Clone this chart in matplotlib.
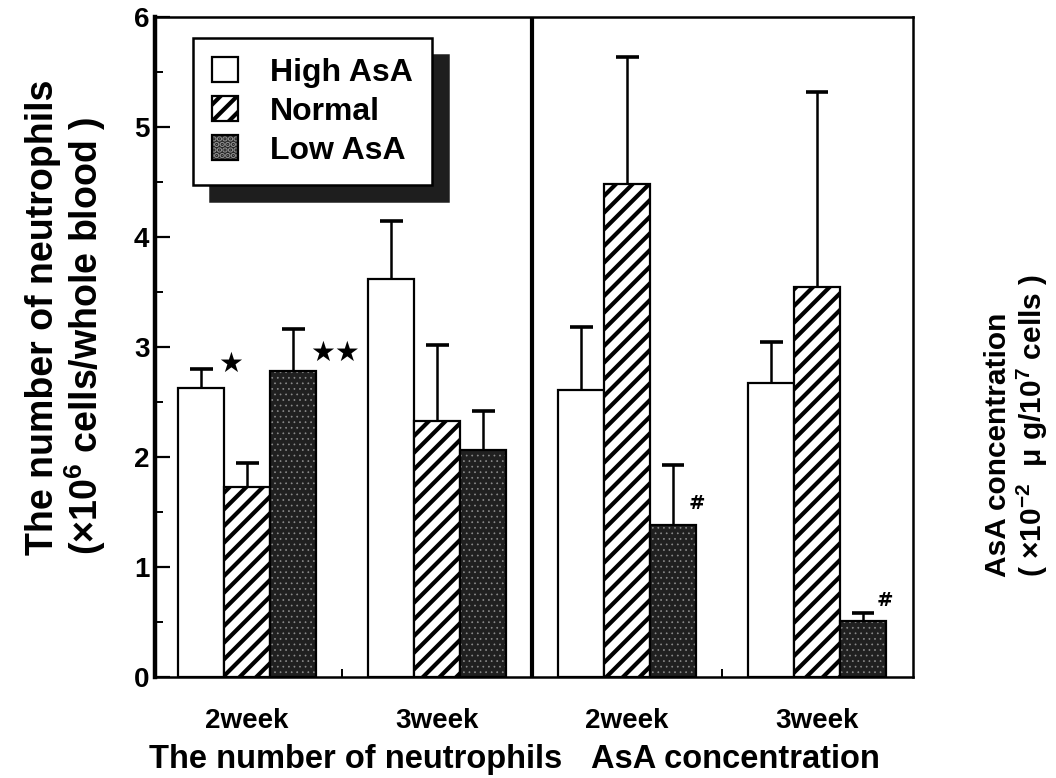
import numpy as np
import matplotlib
matplotlib.use("Agg")
import matplotlib.pyplot as plt
from matplotlib.legend_handler import HandlerTuple

# values (mean, and upper error bar as +SD)
weeks = ["2week", "3week", "2week", "3week"]
panels = ["The number of neutrophils", "AsA concentration"]
groups = ["High AsA", "Normal", "Low AsA"]

high_mean = [2.63, 3.62, 2.61, 2.67]
high_err = [0.17, 0.53, 0.57, 0.38]
normal_mean = [1.73, 2.33, 4.48, 3.55]
normal_err = [0.22, 0.69, 1.16, 1.77]
low_mean = [2.78, 2.06, 1.38, 0.51]
low_err = [0.38, 0.36, 0.55, 0.07]

# significance marks: (week index, group index, text)
marks = [(0, 0, "\u2605"), (0, 2, "\u2605\u2605"), (2, 2, "#"), (3, 2, "#")]
mark_offsets = [(12, 4), (12, -17), (11, -28), (10, 9)]

plt.rcParams["font.family"] = ["Liberation Sans", "DejaVu Sans"]
plt.rcParams["font.weight"] = "bold"
plt.rcParams["mathtext.fontset"] = "custom"
plt.rcParams["mathtext.rm"] = "Liberation Sans:bold"
plt.rcParams["mathtext.default"] = "rm"
plt.rcParams["hatch.linewidth"] = 3.0

fig = plt.figure(figsize=(10.56, 7.78), dpi=100)
ax = fig.add_axes([0.1468, 0.1298, 0.7178, 0.8483])

x = np.arange(len(weeks))
w = 0.242

b_high = ax.bar(x - w, high_mean, w, color="white", edgecolor="black", linewidth=1.6)
b_norm = ax.bar(x, normal_mean, w, color="white", edgecolor="black",
                linewidth=1.6, hatch="//")
b_low_fill = ax.bar(x + w, low_mean, w, color="#202020", edgecolor="#8c8c8c",
                    linewidth=0, hatch="...")
for p in b_low_fill:
    if hasattr(p, "set_hatch_linewidth"):
        p.set_hatch_linewidth(0.5)
b_low = ax.bar(x + w, low_mean, w, fill=False, edgecolor="black", linewidth=1.6)

# upper error bars only
cap = 0.06
for off, mean, err in [(-w, high_mean, high_err), (0, normal_mean, normal_err),
                       (w, low_mean, low_err)]:
    xs = x + off
    tops = np.array(mean) + np.array(err)
    ax.vlines(xs, mean, tops, color="black", linewidth=1.8, zorder=3)
    ax.hlines(tops, xs - cap, xs + cap, color="black", linewidth=2.6, zorder=3)

means = [high_mean, normal_mean, low_mean]
errs = [high_err, normal_err, low_err]
for (wi, gi, txt), (dx, dy) in zip(marks, mark_offsets):
    xm = x[wi] + (gi - 1) * w
    ym = means[gi][wi] + errs[gi][wi]
    size = 20 if txt != "#" else 14
    ax.annotate(txt, (xm, ym), xytext=(dx, dy), textcoords="offset points",
                ha="left", va="center", fontsize=size, family=["DejaVu Sans"],
                fontweight="bold")

# divider between the two panels
ax.axvline(1.5, color="black", linewidth=3)

ax.set_xlim(-0.485, 3.505)
ax.set_ylim(0, 6)
ax.set_yticks(range(7))
ax.set_yticks(np.arange(0.5, 6, 1), minor=True)
ax.tick_params(axis="y", which="major", direction="in", length=11, width=1.6,
               labelsize=20, pad=4)
ax.tick_params(axis="y", which="minor", direction="in", length=6, width=1.4)
ax.set_xticks(x)
ax.set_xticklabels(weeks)
ax.set_xticks([0.5, 2.5], minor=True)
ax.tick_params(axis="x", which="major", length=0, labelsize=20, pad=22)
ax.tick_params(axis="x", which="minor", direction="in", length=6, width=1.4)
for s in ["top", "right", "bottom"]:
    ax.spines[s].set_linewidth(1.8)
ax.spines["left"].set_linewidth(3.2)

for i, name in enumerate(panels):
    ax.text(2 * i + 0.57, -0.125, name, transform=ax.get_xaxis_transform(),
            ha="center", va="center", fontsize=23.5)

fig.text(0.063, 0.2866,
         "The number of neutrophils\n(\u00d710$^{6}$ cells/whole blood )",
         rotation=90, ha="center", va="bottom", multialignment="left",
         fontsize=27, linespacing=1.05)
fig.text(0.963, 0.258,
         "AsA concentration\n( \u00d710$^{-2}$  \u03bc g/10$^{7}$ cells )",
         rotation=90, ha="center", va="bottom", multialignment="left",
         fontsize=21.5, linespacing=1.1)

leg = ax.legend([b_high[0], b_norm[0], (b_low_fill[0], b_low[0])], groups,
                handler_map={tuple: HandlerTuple(ndivide=1)},
                loc="upper left", bbox_to_anchor=(0.05, 0.968), borderaxespad=0,
                fontsize=23, handlelength=0.8, handleheight=0.8,
                handletextpad=1.0, labelspacing=0.27, borderpad=0.6,
                fancybox=False, framealpha=1, edgecolor="black",
                shadow={"ox": 12, "oy": -12, "color": "#1e1e1e", "alpha": 1})
leg.get_frame().set_linewidth(1.8)

fig.savefig("out.png", dpi=100)
